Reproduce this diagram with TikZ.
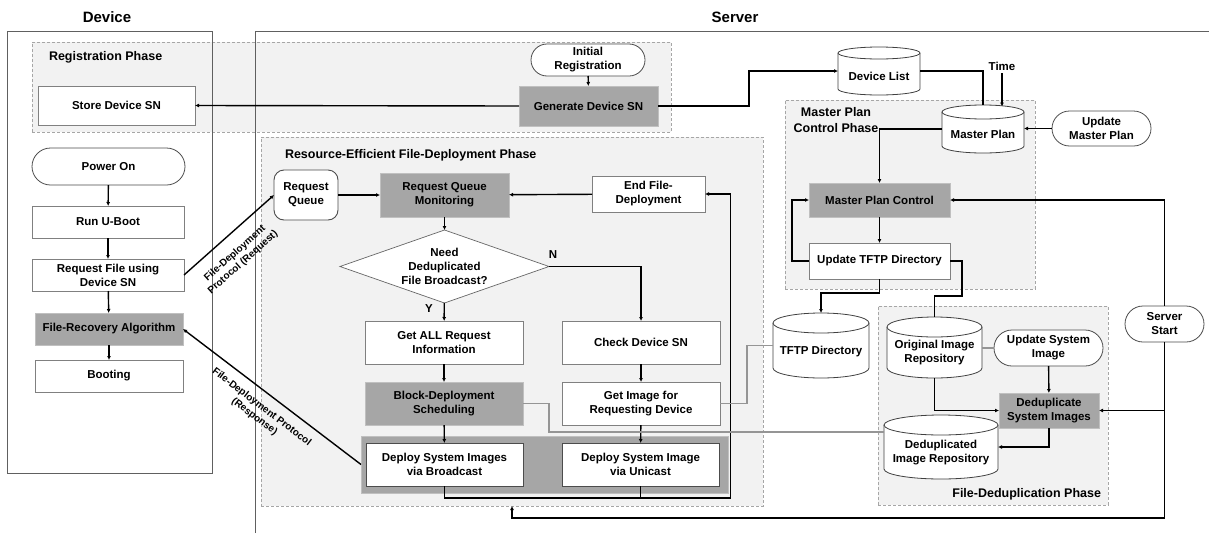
\documentclass[tikz,border=0pt]{standalone}
\usepackage{fontspec}
\setmainfont{Liberation Sans}
\usetikzlibrary{shapes.geometric,shapes.misc,arrows.meta,calc}
\pgfdeclarelayer{bg}
\pgfdeclarelayer{mid}
\pgfsetlayers{bg,mid,main}

\definecolor{phasefill}{HTML}{F2F2F2}
\definecolor{phaseline}{HTML}{A6A6A6}
\definecolor{darkfill}{HTML}{A6A6A6}
\definecolor{darkline}{HTML}{C0C0C0}
\definecolor{boxline}{HTML}{808080}
\definecolor{greyconn}{HTML}{959595}
\definecolor{frameline}{HTML}{606060}

% database cylinder drawn round a named node: node, half width, ellipse half height
\newcommand\dbdraw[3]{%
  \begin{pgfonlayer}{mid}
  \filldraw[dbline] ($(#1.north west)+(0,#3)$) -- ($(#1.south west)+(0,-#3)$)
    arc[start angle=180,end angle=360,x radius=#2pt,y radius=#3pt]
    -- ($(#1.north east)+(0,#3)$)
    arc[start angle=0,end angle=180,x radius=#2pt,y radius=#3pt] -- cycle;
  \draw[dbline] ($(#1.north west)+(0,#3)$)
    arc[start angle=180,end angle=360,x radius=#2pt,y radius=#3pt];
  \end{pgfonlayer}}

\begin{document}
\begin{tikzpicture}[x=1pt,y=-1pt,
  font=\bfseries\fontsize{11.5}{14}\selectfont,
  every node/.style={inner sep=0pt,outer sep=0pt,align=center},
  sz/.style 2 args={minimum width=#1pt,minimum height=#2pt},
  box/.style={draw=boxline,line width=0.9pt,fill=white},
  dark/.style={draw=darkline,line width=0.9pt,fill=darkfill},
  term/.style={rounded rectangle,draw=black!70,line width=0.8pt,fill=white},
  db/.style={rectangle},
  dbline/.style={draw=black!75,line width=0.8pt,fill=white},
  phase/.style={draw=phaseline,dashed,dash pattern=on 3pt off 2pt,line width=0.8pt,fill=phasefill},
  title/.style={font=\bfseries\fontsize{12.5}{15.5}\selectfont},
  head/.style={font=\bfseries\fontsize{15}{18}\selectfont},
  elabel/.style={font=\bfseries\fontsize{10}{12}\selectfont},
  arr/.style={draw=black,line width=1.4pt,-{Latex[length=4pt,width=4pt]}},
  conn/.style={draw=black,line width=1.4pt},
  gconn/.style={draw=greyconn,line width=1.3pt},
  frame/.style={draw=frameline,line width=0.8pt}]

\useasboundingbox (0,0) rectangle (1209,533);

% ---------- phase areas and frames ----------
\begin{pgfonlayer}{bg}
  \node[phase,sz={639}{90}] (reg) at (351.5,87) {};
  \node[phase,sz={502}{369}] (re) at (512,321.5) {};
  \node[phase,sz={250}{189}] (mpcp) at (910,194.5) {};
  \node[phase,sz={230}{199}] (fdp) at (993,405.5) {};
  \node[frame,sz={205}{442}] (dev) at (109.5,252) {};
  \draw[frame] (255,533) -- (255,31) -- (1209,31);
\end{pgfonlayer}

% ---------- headings and phase titles ----------
\node[head] (hdev) at (107,17) {Device};
\node[head] (hsrv) at (735,17) {Server};
\node[title,anchor=west] (treg) at (49,57) {Registration Phase};
\node[title,anchor=west] (tre) at (285,155) {Resource-Efficient File-Deployment Phase};
\node[title] (tmpc) at (836,120) {Master Plan\\Control Phase};
\node[title,anchor=east] (tfd) at (1101,494) {File-Deduplication Phase};

% ---------- device side ----------
\node[box,sz={157}{39}] (store) at (116.5,105.5) {Store Device SN};
\node[term,sz={153}{37}] (pon) at (108.5,166.5) {Power On};
\node[box,sz={152}{32}] (uboot) at (108,222) {Run U-Boot};
\node[box,sz={152}{32}] (rfile) at (108,275) {Request File using\\Device SN};
\node[dark,sz={148}{32}] (fra) at (109,329) {File-Recovery Algorithm};
\node[box,sz={148}{32}] (boot) at (109,376) {Booting};

% ---------- registration ----------
\node[term,sz={114}{32}] (initreg) at (588,60) {Initial\\Registration};
\node[dark,sz={139}{40}] (gensn) at (588.5,106) {Generate Device SN};

% ---------- deployment phase ----------
\node[box,rounded corners=10pt,draw=black!70,sz={64}{50}] (rq) at (306,195) {Request\\Queue};
\node[dark,sz={129}{44}] (rqm) at (444.5,195) {Request Queue\\Monitoring};
\node[box,sz={113}{36}] (efd) at (648.5,194) {End File-\\Deployment};
\node[diamond,draw=black!60,line width=0.7pt,fill=white,aspect=2.86,sz={209}{73}] (dia) at (444.5,266.5) {Need\\Deduplicated\\File Broadcast?};
\node[box,sz={158}{43}] (gar) at (444,342.5) {Get ALL Request\\Information};
\node[box,sz={158}{43}] (cds) at (641,342.5) {Check Device SN};
\node[dark,sz={158}{43}] (bds) at (444,403.5) {Block-Deployment\\Scheduling};
\node[box,sz={158}{43}] (gird) at (641,403.5) {Get Image for\\Requesting Device};
\node[dark,sz={367}{57}] (dgrp) at (544.5,464.5) {};
\node[box,draw=black!70,sz={157}{43}] (dsb) at (444.5,464.5) {Deploy System Images\\via Broadcast};
\node[box,draw=black!70,sz={157}{43}] (dsu) at (640.5,464.5) {Deploy System Image\\via Unicast};
\node (ylab) at (429,309) {Y};
\node (nlab) at (553,255) {N};

% ---------- master plan ----------
\node[db,sz={82}{48},label={[name=devlistt,yshift=-5pt]center:Device List}] (devlist) at (879,71) {};
\dbdraw{devlist}{41}{6}
\node (time) at (1002,66) {Time};
\node[db,sz={82}{48},label={[name=mplant,yshift=-5pt]center:Master Plan}] (mplan) at (983,129) {};
\dbdraw{mplan}{41}{7}
\node[term,sz={99}{35}] (updmp) at (1101.5,128.5) {Update\\Master Plan};
\node[dark,sz={141}{34}] (mpc) at (879.5,200) {Master Plan Control};
\node[box,sz={141}{36}] (utd) at (879.5,261) {Update TFTP Directory};

% ---------- repositories and deduplication ----------
\node[db,sz={96}{65},label={[name=tftpt,yshift=-6pt]center:TFTP Directory}] (tftp) at (821,345.5) {};
\dbdraw{tftp}{48}{10}
\node[db,sz={95}{61},label={[name=oirt,yshift=-5.5pt]center:{Original Image\\Repository}}] (oir) at (934.5,347.5) {};
\dbdraw{oir}{47.5}{10}
\node[term,sz={109}{36}] (upsi) at (1048.5,348) {Update System\\Image};
\node[dark,sz={100}{35}] (dsi) at (1049,410.5) {Deduplicate\\System Images};
\node[db,sz={114}{64},label={[name=dirt,yshift=-5.5pt]center:{Deduplicated\\Image Repository}}] (dir) at (941,447) {};
\dbdraw{dir}{57}{10}
\node[term,sz={79}{36}] (sstart) at (1164.5,324) {Server\\Start};

% ---------- device flow ----------
\draw[arr] (pon) -- (uboot);
\draw[arr] (uboot) -- (rfile);
\draw[arr] (rfile) -- (fra);
\draw[arr] (fra) -- (boot);

% ---------- registration flow ----------
\draw[arr] (initreg) -- (gensn);
\draw[arr] (gensn.west) -- (store.east);
\draw[arr] (gensn.east) -- ++(91,0) |- (devlist.west);

% ---------- protocol links ----------
\draw[arr] (rfile.east) -- (rq.west);
\node[elabel,rotate=41.6] (lreq) at (239,258) {File-Deployment\\Protocol (Request)};
\draw[arr] (dgrp.west) -- (fra.east);
\node[elabel,rotate=-37.3] (lres) at (258,412) {File-Deployment Protocol\\(Response)};

% ---------- deployment flow ----------
\draw[arr] (rq) -- (rqm);
\draw[arr] (efd) -- (rqm);
\draw[arr] (rqm) -- (dia);
\draw[arr] (dia) -- (gar);
\draw[arr] (dia.east) -| (cds.north);
\draw[arr] (gar) -- (bds);
\draw[arr] (cds) -- (gird);
\draw[arr] (bds) -- (dsb);
\draw[arr] (gird) -- (dsu);
\draw[arr] (dsb.south) -- ++(0,12) -- ++(286,0) |- (efd.east);
\draw[conn] (dsu.south) -- ++(0,12);
\draw[gconn] (gird.east) -- ++(27,0) |- (tftp.west);
\draw[gconn] (bds.east) -- ++(26,0) |- (dir.west |- 0,432);

% ---------- master plan flow ----------
\draw[conn] (devlist.east) -| (mplan.north);
\draw[arr] (time.south) ++(0,3) -- ($(time.south |- mplan.north)+(0,1.5)$);
\draw[arr] (updmp.west) -- (updmp.west -| mplan.east);
\draw[arr] (mplan.west) -| (mpc.north);
\draw[arr] (mpc) -- (utd);
\draw[arr] (utd.west) -- ++(-17,0) |- (mpc.west);
\draw[arr] (sstart.north) |- (mpc.east);
\draw[arr] (utd.south) -- ++(0,14) -| (tftp.north);
\draw[conn] (utd.east) -| ++(12,35) -| (oir.north);

% ---------- deduplication flow ----------
\draw[gconn] (oir.east |- upsi.west) -- (upsi.west);
\draw[arr] (upsi) -- (dsi);
\draw[arr] (oir.south) |- (dsi.west);
\draw[arr] (dsi.south) |- (dir.east);
\draw[arr] (sstart.south) |- (dsi.east);
\draw[arr] (sstart.south) -- (sstart.south |- 0,518) -| (re.south);

\end{tikzpicture}
\end{document}
